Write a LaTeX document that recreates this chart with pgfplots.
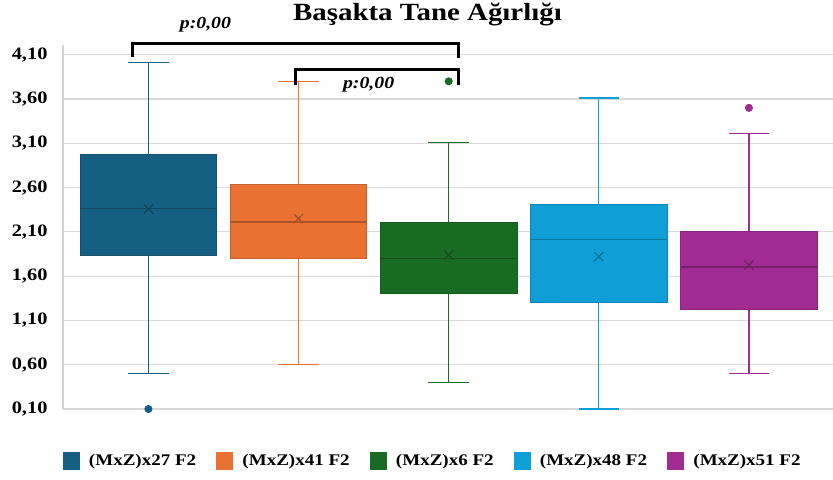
\documentclass[border=0pt]{standalone}
\usepackage{fontspec}
\setmainfont{Liberation Serif}[FakeStretch=1.17]
\usepackage{pgfplots}
\pgfplotsset{compat=1.18}
\usepgfplotslibrary{statistics}

\definecolor{c1}{HTML}{156082}
\definecolor{c2}{HTML}{E97132}
\definecolor{c3}{HTML}{196B24}
\definecolor{c4}{HTML}{0F9ED5}
\definecolor{c5}{HTML}{A02B93}

% common look of one box
\pgfplotsset{
  mybox/.style={
    forget plot,
    fill=#1, draw=#1!85!black, line width=0.8bp,
    mark=*, mark size=3.6bp, mark options={fill=#1, draw=#1, solid},
    boxplot/box extend=0.91,
    boxplot/whisker extend=0.27,
    boxplot/every whisker/.style={draw=#1, line width=1.3bp},
    boxplot/every median/.style={draw=#1!75!black, line width=1.6bp},
  },
  % mean marker of one box
  mymean/.style={forget plot, only marks, mark=x, mark size=6.5bp,
    mark options={draw=#1!70!black, line width=1.2bp}},
  sqlegend/.style={legend image code/.code={\fill[#1] (0bp,-8.5bp) rectangle (16bp,8.5bp);}},
}

\begin{document}
\begin{tikzpicture}
\begin{axis}[
  at={(63bp,71bp)}, anchor=south west,
  scale only axis, width=770bp, height=364bp,
  xmin=0.431, xmax=5.56,
  ymin=0.1, ymax=4.21,
  clip=false,
  axis x line=none,
  axis y line*=left,
  y axis line style={-, draw=black!18, line width=1.2bp},
  xtick=\empty,
  ytick={0.1,0.6,1.1,1.6,2.1,2.6,3.1,3.6,4.1},
  major tick length=0pt,
  ymajorgrids,
  major grid style={draw=black!15, line width=1.2bp},
  yticklabel style={font=\bfseries\fontsize{17.5}{20}\selectfont, xshift=-12bp,
    /pgf/number format/.cd, fixed, fixed zerofill, precision=2, use comma, assume math mode=true},
  boxplot/draw direction=y,
  legend style={at={(0.480,-0.143)}, anchor=center, draw=none, fill=none,
    legend columns=5, font=\bfseries\fontsize{16.3}{18}\selectfont,
    /tikz/every even column/.append style={column sep=18bp},
    /tikz/every odd column/.append style={column sep=8bp}},
  legend cell align=left,
]
% (MxZ)x27 F2
\addplot[mybox=c1, boxplot prepared={draw position=1,
  lower whisker=0.50, lower quartile=1.83, median=2.365,
  upper quartile=2.98, upper whisker=4.01}]
  coordinates {(0,0.10)};
\addplot[mymean=c1] coordinates {(1,2.36)};
% (MxZ)x41 F2
\addplot[mybox=c2, boxplot prepared={draw position=2,
  lower whisker=0.60, lower quartile=1.80, median=2.21,
  upper quartile=2.64, upper whisker=3.80}]
  coordinates {};
\addplot[mymean=c2] coordinates {(2,2.25)};
% (MxZ)x6 F2
\addplot[mybox=c3, boxplot prepared={draw position=3,
  lower whisker=0.40, lower quartile=1.40, median=1.80,
  upper quartile=2.21, upper whisker=3.11}]
  coordinates {(0,3.80)};
\addplot[mymean=c3] coordinates {(3,1.84)};
% (MxZ)x48 F2
\addplot[mybox=c4, boxplot prepared={draw position=4,
  lower whisker=0.10, lower quartile=1.30, median=2.015,
  upper quartile=2.41, upper whisker=3.61}]
  coordinates {};
\addplot[mymean=c4] coordinates {(4,1.82)};
% (MxZ)x51 F2
\addplot[mybox=c5, boxplot prepared={draw position=5,
  lower whisker=0.50, lower quartile=1.225, median=1.70,
  upper quartile=2.10, upper whisker=3.21}]
  coordinates {(0,3.50)};
\addplot[mymean=c5] coordinates {(5,1.725)};

\addlegendimage{sqlegend=c1}\addlegendentry{(MxZ)x27 F2}
\addlegendimage{sqlegend=c2}\addlegendentry{(MxZ)x41 F2}
\addlegendimage{sqlegend=c3}\addlegendentry{(MxZ)x6 F2}
\addlegendimage{sqlegend=c4}\addlegendentry{(MxZ)x48 F2}
\addlegendimage{sqlegend=c5}\addlegendentry{(MxZ)x51 F2}

% significance brackets
\draw[line width=3bp, black, line cap=butt, line join=miter]
  (axis cs:0.893,4.08) -- (axis cs:0.893,4.23) -- (axis cs:3.067,4.23) -- (axis cs:3.067,4.06);
\draw[line width=3bp, black, line cap=butt, line join=miter]
  (axis cs:1.98,3.757) -- (axis cs:1.98,3.93) -- (axis cs:3.067,3.93) -- (axis cs:3.067,3.757);
\node[font=\bfseries\itshape\fontsize{17}{19}\selectfont] at (axis cs:1.38,4.434) {p:0,00};
\node[font=\bfseries\itshape\fontsize{17}{19}\selectfont] at (axis cs:2.467,3.757) {p:0,00};
\end{axis}
\node[font=\bfseries\fontsize{24.8}{28}\selectfont, anchor=base] at (427.5bp,459.3bp) {Başakta Tane Ağırlığı};
\pgfresetboundingbox
\path[use as bounding box] (0,0) rectangle (833bp,480bp);
\end{tikzpicture}
\end{document}
